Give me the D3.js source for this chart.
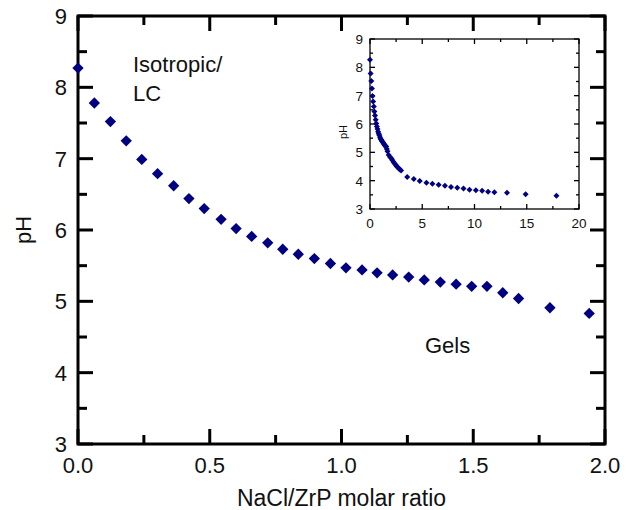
<!DOCTYPE html>
<html>
<head>
<meta charset="utf-8">
<script src="https://cdn.jsdelivr.net/npm/d3@7"></script>
<style>
  body { margin: 0; background: #fff; }
  svg text { font-family: "Liberation Sans", Arial, Helvetica, sans-serif; fill: #111; }
</style>
</head>
<body>
<svg id="chart" width="629" height="510"></svg>
<script>
// main plot: NaCl/ZrP molar ratio vs pH
var ratio = [0, 0.062, 0.123, 0.183, 0.242, 0.302, 0.363, 0.421, 0.479, 0.543, 0.600,
  0.659, 0.720, 0.777, 0.836, 0.897, 0.958, 1.017, 1.078, 1.135, 1.194, 1.255, 1.314,
  1.375, 1.435, 1.494, 1.552, 1.612, 1.672, 1.791, 1.940];
var pH = [8.27, 7.78, 7.52, 7.25, 6.99, 6.79, 6.62, 6.44, 6.30, 6.15, 6.02,
  5.91, 5.82, 5.73, 5.66, 5.60, 5.53, 5.47, 5.44, 5.40, 5.37, 5.34, 5.30,
  5.27, 5.24, 5.21, 5.21, 5.12, 5.04, 4.91, 4.83];

// inset: extra points beyond the main range
var ratioMore = [2.05, 2.15, 2.25, 2.35, 2.45, 2.55, 2.65, 2.75, 2.85, 2.97,
  3.56, 4.19, 4.76, 5.40, 5.97, 6.57, 7.17, 7.75, 8.35, 8.95, 9.52, 10.13,
  10.73, 11.30, 11.90, 13.11, 14.89, 17.84];
var pHMore = [4.78, 4.72, 4.66, 4.61, 4.56, 4.51, 4.47, 4.43, 4.40, 4.36,
  4.13, 4.06, 3.99, 3.93, 3.89, 3.86, 3.82, 3.78, 3.75, 3.72, 3.68, 3.66,
  3.64, 3.61, 3.59, 3.57, 3.52, 3.47];

var xTicks = [0, 0.5, 1.0, 1.5, 2.0];
var yTicks = [3, 4, 5, 6, 7, 8, 9];
var insetXTicks = [0, 5, 10, 15, 20];

var navy = '#000080';
var svg = d3.select('#chart');

var x = d3.scaleLinear().domain([0, 2]).range([78, 605]);
var y = d3.scaleLinear().domain([3, 9]).range([444, 16]);

// draws inward ticks on all four sides of a frame
function frameTicks(g, xs, ys, vals, len, width) {
  var x0 = xs.range()[0], x1 = xs.range()[1];
  var y0 = ys.range()[0], y1 = ys.range()[1];
  vals.x.forEach(function (v) {
    var l = len(v, 'x');
    g.append('line').attr('x1', xs(v)).attr('x2', xs(v)).attr('y1', y0).attr('y2', y0 - l)
      .attr('stroke', '#000').attr('stroke-width', width);
    g.append('line').attr('x1', xs(v)).attr('x2', xs(v)).attr('y1', y1).attr('y2', y1 + l)
      .attr('stroke', '#000').attr('stroke-width', width);
  });
  vals.y.forEach(function (v) {
    var l = len(v, 'y');
    g.append('line').attr('y1', ys(v)).attr('y2', ys(v)).attr('x1', x0).attr('x2', x0 + l)
      .attr('stroke', '#000').attr('stroke-width', width);
    g.append('line').attr('y1', ys(v)).attr('y2', ys(v)).attr('x1', x1).attr('x2', x1 - l)
      .attr('stroke', '#000').attr('stroke-width', width);
  });
  g.append('rect')
    .attr('x', x0).attr('y', y1)
    .attr('width', x1 - x0).attr('height', y0 - y1)
    .attr('fill', 'none').attr('stroke', '#000').attr('stroke-width', width);
}

var main = svg.append('g');
frameTicks(main, x, y,
  { x: d3.range(0, 2.01, 0.25), y: d3.range(3, 9.01, 0.5) },
  function (v, ax) {
    var step = ax === 'x' ? 0.5 : 1;
    return Math.abs(v / step - Math.round(v / step)) < 1e-6 ? 15 : 9;
  }, 3);

main.selectAll('.xlab').data(xTicks).enter().append('text')
  .attr('x', function (d) { return x(d); })
  .attr('y', 473)
  .attr('text-anchor', 'middle')
  .style('font-size', '22px')
  .text(function (d) { return d.toFixed(1); });

main.selectAll('.ylab').data(yTicks).enter().append('text')
  .attr('x', 67)
  .attr('y', function (d) { return y(d) + 8; })
  .attr('text-anchor', 'end')
  .style('font-size', '22px')
  .text(function (d) { return d; });

main.append('text')
  .attr('x', (x.range()[0] + x.range()[1]) / 2)
  .attr('y', 506)
  .attr('text-anchor', 'middle')
  .style('font-size', '23px')
  .text('NaCl/ZrP molar ratio');

main.append('text')
  .attr('transform', 'translate(31,' + y(6) + ') rotate(-90)')
  .attr('text-anchor', 'middle')
  .style('font-size', '22px')
  .text('pH');

main.append('text').attr('x', 133).attr('y', 72).style('font-size', '22px').text('Isotropic/');
main.append('text').attr('x', 133).attr('y', 101).style('font-size', '22px').text('LC');
main.append('text').attr('x', 425).attr('y', 353).style('font-size', '22px').text('Gels');

var bigDiamond = d3.symbol().type(d3.symbolSquare).size(64);
main.selectAll('.pt').data(ratio).enter().append('path')
  .attr('d', bigDiamond)
  .attr('transform', function (d, i) { return 'translate(' + x(d) + ',' + y(pH[i]) + ') rotate(45)'; })
  .attr('fill', navy);

// inset
var ix = d3.scaleLinear().domain([0, 20]).range([370, 579]);
var iy = d3.scaleLinear().domain([3, 9]).range([209, 39]);
var inset = svg.append('g');

frameTicks(inset, ix, iy,
  { x: d3.range(0, 20.01, 2.5), y: d3.range(3, 9.01, 0.5) },
  function (v, ax) {
    var step = ax === 'x' ? 5 : 1;
    return Math.abs(v / step - Math.round(v / step)) < 1e-6 ? 5 : 3;
  }, 1.3);

inset.selectAll('.ixlab').data(insetXTicks).enter().append('text')
  .attr('x', function (d) { return ix(d); })
  .attr('y', 228)
  .attr('text-anchor', 'middle')
  .style('font-size', '13.5px')
  .text(function (d) { return d; });

inset.selectAll('.iylab').data(yTicks).enter().append('text')
  .attr('x', 363)
  .attr('y', function (d) { return iy(d) + 5; })
  .attr('text-anchor', 'end')
  .style('font-size', '13.5px')
  .text(function (d) { return d; });

inset.append('text')
  .attr('transform', 'translate(347,132) rotate(-90)')
  .attr('text-anchor', 'middle')
  .style('font-size', '11px')
  .text('pH');

var allX = ratio.concat(ratioMore);
var allY = pH.concat(pHMore);
var smallDiamond = d3.symbol().type(d3.symbolSquare).size(18);
inset.selectAll('.ipt').data(allX).enter().append('path')
  .attr('d', smallDiamond)
  .attr('transform', function (d, i) { return 'translate(' + ix(d) + ',' + iy(allY[i]) + ') rotate(45)'; })
  .attr('fill', navy);
</script>
</body>
</html>
